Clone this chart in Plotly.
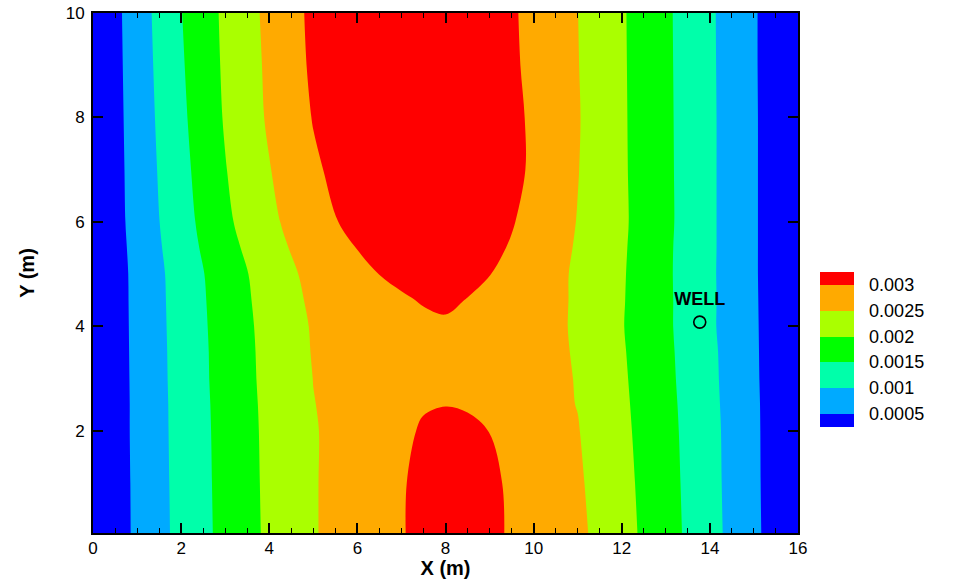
import numpy as np
import plotly.graph_objects as go

# Grid coordinates (m)
X_COORDS = [0, 1, 2, 3, 4, 5, 6, 6.5, 7, 7.5, 8, 8.5, 9, 9.5, 10, 11, 12, 13, 14, 15, 16]
Y_COORDS = [0, 1, 2, 2.5, 3, 3.5, 4, 4.5, 5, 5.5, 6, 7, 8, 9, 10]

# Concentration, in units of 1e-4 (rows follow Y_COORDS)
CONC_E4 = [
    [0, 5.85, 11.4, 16.4, 20.85, 24.7, 27.25, 28.5, 29.7, 31.25, 32.85, 32.55, 31.0, 29.5, 28.2, 26.05, 21.7, 16.95, 11.65, 6.0, 0],
    [0, 5.9, 11.5, 16.5, 20.95, 24.7, 27.25, 28.45, 29.65, 31.1, 32.65, 32.35, 30.8, 29.4, 28.05, 25.65, 21.4, 16.75, 11.5, 5.9, 0],
    [0, 6.0, 11.6, 16.6, 21.05, 24.7, 27.05, 28.2, 29.3, 30.35, 31.3, 30.8, 29.95, 28.75, 27.55, 25.2, 21.05, 16.5, 11.4, 5.85, 0],
    [0, 6.0, 11.65, 16.7, 21.15, 24.9, 26.6, 27.45, 28.75, 29.75, 29.9, 29.65, 28.6, 27.45, 26.6, 24.9, 20.85, 16.35, 11.25, 5.8, 0],
    [0, 6.05, 11.75, 16.85, 21.3, 25.05, 26.35, 27.0, 27.7, 28.35, 29.0, 28.3, 27.6, 26.95, 26.25, 24.85, 20.65, 16.15, 11.1, 5.7, 0],
    [0, 6.1, 11.8, 16.9, 21.4, 25.25, 26.35, 27.0, 27.65, 28.25, 28.9, 28.2, 27.5, 26.8, 26.15, 24.75, 20.45, 16.0, 11.0, 5.65, 0],
    [0, 6.15, 11.9, 17.05, 21.55, 25.4, 26.65, 27.4, 28.15, 28.9, 29.35, 28.55, 27.75, 26.95, 26.2, 24.65, 20.25, 15.85, 10.75, 5.6, 0],
    [0, 6.2, 12.0, 17.25, 21.85, 25.85, 27.4, 28.4, 29.4, 30.35, 30.8, 29.85, 28.8, 27.75, 26.7, 24.55, 20.35, 15.85, 10.8, 5.55, 0],
    [0, 6.25, 12.15, 17.55, 22.2, 26.45, 28.65, 30.05, 31.15, 32.3, 32.5, 31.3, 30.1, 28.75, 27.35, 24.4, 20.45, 15.8, 10.75, 5.5, 0],
    [0, 6.5, 12.65, 18.35, 23.05, 27.5, 30.1, 31.35, 32.55, 33.75, 33.5, 32.25, 31.0, 29.65, 28.0, 24.6, 20.6, 15.85, 10.8, 5.5, 0],
    [0, 6.8, 13.05, 19.1, 23.85, 28.5, 31.15, 32.5, 33.9, 35.25, 34.4, 33.05, 31.65, 30.3, 28.55, 24.85, 20.75, 16.0, 10.8, 5.5, 0],
    [0, 7.0, 13.6, 19.8, 24.8, 29.35, 32.25, 33.65, 35.1, 36.5, 35.1, 33.75, 32.35, 31.0, 29.4, 25.15, 20.65, 15.95, 10.8, 5.5, 0],
    [0, 7.2, 14.1, 20.4, 25.6, 30.2, 33.05, 34.45, 35.85, 36.7, 35.3, 33.85, 32.4, 30.95, 29.35, 25.3, 20.6, 15.9, 10.8, 5.5, 0],
    [0, 7.4, 14.5, 20.7, 25.85, 30.75, 33.5, 35.05, 36.6, 36.9, 35.35, 33.8, 32.25, 30.7, 28.95, 25.15, 20.55, 15.85, 10.75, 5.45, 0],
    [0, 7.6, 14.85, 20.9, 26.15, 31.0, 34.0, 35.7, 37.35, 37.05, 35.4, 33.8, 32.15, 30.55, 28.75, 25.05, 20.5, 15.8, 10.7, 5.45, 0],
]

LEVELS = [0.0005, 0.001, 0.0015, 0.002, 0.0025, 0.003]
LEVEL_LABELS = ["0.0005", "0.001", "0.0015", "0.002", "0.0025", "0.003"]
BAND_COLORS = ["#0000FF", "#00AAFF", "#00FFAA", "#00FF00", "#AAFF00", "#FFAA00", "#FF0000"]

WELL_X = [13.77]
WELL_Y = [4.08]
WELL_LABEL = ["WELL"]

z = (np.array(CONC_E4) * 1e-4).tolist()

FONT = "Arial, Liberation Sans, sans-serif"
n = len(BAND_COLORS)
colorscale = [[i / (n - 1), c] for i, c in enumerate(BAND_COLORS)]

fig = go.Figure()
fig.add_trace(go.Contour(
    x=X_COORDS, y=Y_COORDS, z=z,
    contours=dict(start=LEVELS[0], end=LEVELS[-1], size=LEVELS[1] - LEVELS[0],
                  coloring="fill", showlines=False),
    line=dict(width=0, smoothing=1.0),
    colorscale=colorscale,
    colorbar=dict(
        x=(819.5 - 93) / 705, xanchor="left", xpad=0,
        y=(533 - 349.2) / 520, yanchor="middle", ypad=0,
        lenmode="pixels", len=155, thickness=34,
        outlinewidth=0,
        tickvals=LEVELS, ticktext=LEVEL_LABELS,
        ticks="outside", ticklen=12, tickcolor="rgba(0,0,0,0)",
        tickfont=dict(family=FONT, size=18, color="black"),
    ),
    hoverinfo="skip",
))

fig.add_trace(go.Scatter(
    x=WELL_X, y=WELL_Y, mode="markers",
    marker=dict(symbol="circle-open", size=12, color="black", line=dict(width=1.6, color="black")),
    showlegend=False, hoverinfo="skip",
))
fig.add_trace(go.Scatter(
    x=WELL_X, y=[WELL_Y[0] + 0.41], mode="text", text=[f"<b>{t}</b>" for t in WELL_LABEL],
    textposition="middle center",
    textfont=dict(family=FONT, size=18, color="black"),
    showlegend=False, hoverinfo="skip",
))

axis_common = dict(
    showgrid=False, zeroline=False, showline=True, linewidth=2, linecolor="black",
    mirror="ticks", ticks="inside", ticklen=10, tickwidth=2, tickcolor="black",
    tickfont=dict(family=FONT, size=17, color="black"),
    automargin=False,
)

fig.update_xaxes(
    range=[0, 16], tick0=0, dtick=2, ticklabelstandoff=-1,
    minor=dict(dtick=0.5, ticks="inside", ticklen=5, tickwidth=1, tickcolor="black"),
    title=dict(text="<b>X (m)</b>", font=dict(family=FONT, size=20, color="black"), standoff=7),
    **axis_common,
)
fig.update_yaxes(
    range=[0.04, 10], tick0=0, dtick=2, ticklabelstandoff=3,
    title=dict(text="<b>Y (m)</b>", font=dict(family=FONT, size=20, color="black"), standoff=26),
    **axis_common,
)

fig.update_layout(
    width=953, height=579, autosize=False,
    margin=dict(l=93, r=155, t=13, b=46),
    paper_bgcolor="white", plot_bgcolor="white",
    showlegend=False,
    font=dict(family=FONT, color="black"),
)

fig.write_html("out.html", config={"displayModeBar": False},
               post_script="document.body.style.margin='0';")
